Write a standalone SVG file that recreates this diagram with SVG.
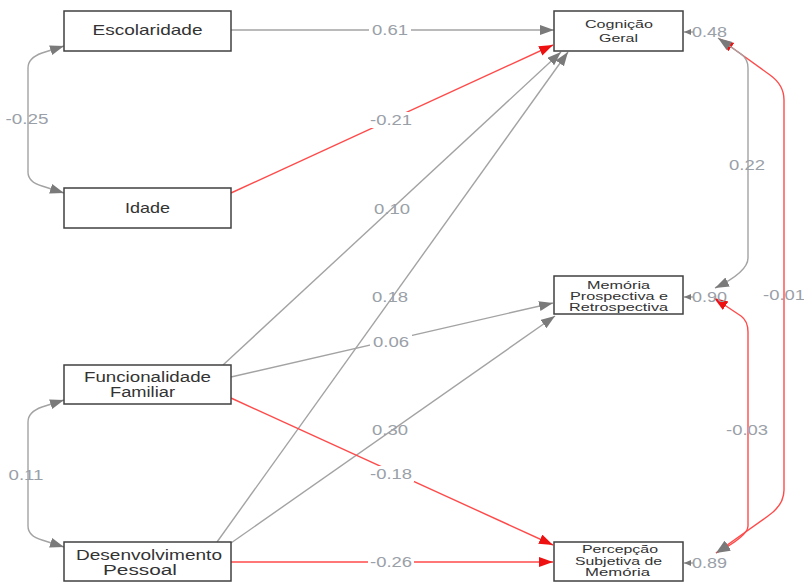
<svg xmlns="http://www.w3.org/2000/svg" width="804" height="582" viewBox="0 0 804 582">
<style>
.box{fill:#fff;stroke:#404040;stroke-width:1.5}
.nt{font-family:"Liberation Sans",Arial,sans-serif;font-size:15px;fill:#333;text-anchor:middle}
.n2{font-family:"Liberation Sans",Arial,sans-serif;font-size:14px;fill:#333;text-anchor:middle}
.ns{font-family:"Liberation Sans",Arial,sans-serif;font-size:11px;fill:#333;text-anchor:middle}
.g{fill:none;stroke:#a3a3a3;stroke-width:1.4}
.r{fill:none;stroke:#ff4a4a;stroke-width:1.4}
.lbl{font-family:"Liberation Sans",Arial,sans-serif;font-size:14px;fill:#9aa0a8;text-anchor:middle}
.bg{fill:#fff}
</style>
<defs>
<marker id="ag" markerUnits="userSpaceOnUse" markerWidth="15" markerHeight="11" refX="14" refY="5" orient="auto-start-reverse"><path d="M0,0 L14,5 L0,10 z" fill="#7a7a7a"/></marker>
<marker id="ar" markerUnits="userSpaceOnUse" markerWidth="15" markerHeight="11" refX="14" refY="5" orient="auto-start-reverse"><path d="M0,0 L14,5 L0,10 z" fill="#ee1111"/></marker>
<marker id="as" markerUnits="userSpaceOnUse" markerWidth="8" markerHeight="7" refX="7" refY="3" orient="auto"><path d="M0,0 L7,3 L0,6 z" fill="#7a7a7a"/></marker>
</defs>

<g id="connectors">
  <path class="g" d="M64,46 L42,53 Q28,58 28,68 L28,172 Q28,182 42,186 L64,193" marker-start="url(#ag)" marker-end="url(#ag)"/>
  <text class="lbl" x="27" y="124" textLength="43" lengthAdjust="spacingAndGlyphs">-0.25</text>
  <path class="g" d="M64,400 L42,407 Q28,412 28,422 L28,526 Q28,536 42,540 L64,547" marker-start="url(#ag)" marker-end="url(#ag)"/>
  <text class="lbl" x="26" y="480" textLength="35" lengthAdjust="spacingAndGlyphs">0.11</text>

  <path class="g" d="M231,30 L554,30" marker-end="url(#ag)"/>
  <rect class="bg" x="369" y="22" width="42" height="16"/>
  <text class="lbl" x="390" y="35" textLength="36" lengthAdjust="spacingAndGlyphs">0.61</text>

  <path class="r" d="M231,193 L553,45" marker-end="url(#ar)"/>
  <rect class="bg" x="368" y="112" width="46" height="16"/>
  <text class="lbl" x="391" y="125" textLength="42" lengthAdjust="spacingAndGlyphs">-0.21</text>

  <path class="g" d="M223,365 L561,52" marker-end="url(#ag)"/>
  <text class="lbl" x="392" y="214" textLength="36" lengthAdjust="spacingAndGlyphs">0.10</text>

  <path class="g" d="M217,542 L568,52" marker-end="url(#ag)"/>
  <text class="lbl" x="390" y="302" textLength="36" lengthAdjust="spacingAndGlyphs">0.18</text>

  <path class="g" d="M231,377 L553,303" marker-end="url(#ag)"/>
  <rect class="bg" x="370" y="334" width="42" height="16"/>
  <text class="lbl" x="391" y="347" textLength="36" lengthAdjust="spacingAndGlyphs">0.06</text>

  <path class="g" d="M231,543 L555,316" marker-end="url(#ag)"/>
  <text class="lbl" x="390" y="435" textLength="36" lengthAdjust="spacingAndGlyphs">0.30</text>

  <path class="r" d="M231,398 L553,545" marker-end="url(#ar)"/>
  <rect class="bg" x="368" y="466" width="46" height="16"/>
  <text class="lbl" x="391" y="479" textLength="42" lengthAdjust="spacingAndGlyphs">-0.18</text>

  <path class="r" d="M231,562 L553,562" marker-end="url(#ar)"/>
  <rect class="bg" x="368" y="554" width="46" height="16"/>
  <text class="lbl" x="391" y="567" textLength="42" lengthAdjust="spacingAndGlyphs">-0.26</text>

  <path class="r" d="M720,39 L770,75 Q784,85 784,100 L784,490 Q784,505 768,516 L716,553" marker-start="url(#ar)" marker-end="url(#ag)"/>
  <text class="lbl" x="784" y="300" textLength="42" lengthAdjust="spacingAndGlyphs">-0.01</text>
  <path class="r" d="M714,298 L741,316 Q748,321 748,332 L748,526 Q748,536 716,553" marker-start="url(#ar)" marker-end="url(#ag)"/>
  <text class="lbl" x="747" y="435" textLength="42" lengthAdjust="spacingAndGlyphs">-0.03</text>
  <path class="g" d="M718,38 L741,54 Q748,59 748,68 L748,258 Q748,272 715,288" marker-start="url(#ag)" marker-end="url(#ag)"/>
  <text class="lbl" x="747" y="170" textLength="36" lengthAdjust="spacingAndGlyphs">0.22</text>

  <path class="g" d="M694,32 L684,32" marker-end="url(#as)"/>
  <text class="lbl" x="709.5" y="37" textLength="35" lengthAdjust="spacingAndGlyphs">0.48</text>
  <path class="g" d="M694,297 L684,297" marker-end="url(#as)"/>
  <text class="lbl" x="709.5" y="302" textLength="35" lengthAdjust="spacingAndGlyphs">0.90</text>
  <path class="g" d="M694,563 L684,563" marker-end="url(#as)"/>
  <text class="lbl" x="709.5" y="568" textLength="35" lengthAdjust="spacingAndGlyphs">0.89</text>
</g>

<g id="escolaridade">
  <rect class="box" x="64" y="11" width="167" height="40"/>
  <text class="nt" x="147.5" y="35" textLength="110" lengthAdjust="spacingAndGlyphs">Escolaridade</text>
</g>
<g id="idade">
  <rect class="box" x="64" y="188" width="167" height="40"/>
  <text class="nt" x="147.5" y="213" textLength="45" lengthAdjust="spacingAndGlyphs">Idade</text>
</g>
<g id="funcionalidade">
  <rect class="box" x="64" y="365" width="167" height="39"/>
  <text class="n2" x="147.5" y="382" textLength="127" lengthAdjust="spacingAndGlyphs">Funcionalidade</text>
  <text class="n2" x="142.5" y="397" textLength="65" lengthAdjust="spacingAndGlyphs">Familiar</text>
</g>
<g id="desenvolvimento">
  <rect class="box" x="64" y="542" width="167" height="39"/>
  <text class="n2" x="149" y="560" textLength="146" lengthAdjust="spacingAndGlyphs">Desenvolvimento</text>
  <text class="n2" x="140" y="575" textLength="74" lengthAdjust="spacingAndGlyphs">Pessoal</text>
</g>
<g id="cognicao">
  <rect class="box" x="554" y="11" width="129" height="40"/>
  <text class="ns" x="619" y="28" textLength="68" lengthAdjust="spacingAndGlyphs">Cognição</text>
  <text class="ns" x="618.5" y="42" textLength="39" lengthAdjust="spacingAndGlyphs">Geral</text>
</g>
<g id="memoria">
  <rect class="box" x="554" y="276" width="129" height="38"/>
  <text class="ns" x="618.5" y="288.5" textLength="63" lengthAdjust="spacingAndGlyphs">Memória</text>
  <text class="ns" x="619" y="299.5" textLength="98" lengthAdjust="spacingAndGlyphs">Prospectiva e</text>
  <text class="ns" x="618.5" y="310.5" textLength="99" lengthAdjust="spacingAndGlyphs">Retrospectiva</text>
</g>
<g id="percepcao">
  <rect class="box" x="554" y="542" width="129" height="39"/>
  <text class="ns" x="620" y="553" textLength="76" lengthAdjust="spacingAndGlyphs">Percepção</text>
  <text class="ns" x="618.5" y="565" textLength="87" lengthAdjust="spacingAndGlyphs">Subjetiva de</text>
  <text class="ns" x="617.5" y="576" textLength="65" lengthAdjust="spacingAndGlyphs">Memória</text>
</g>
</svg>
